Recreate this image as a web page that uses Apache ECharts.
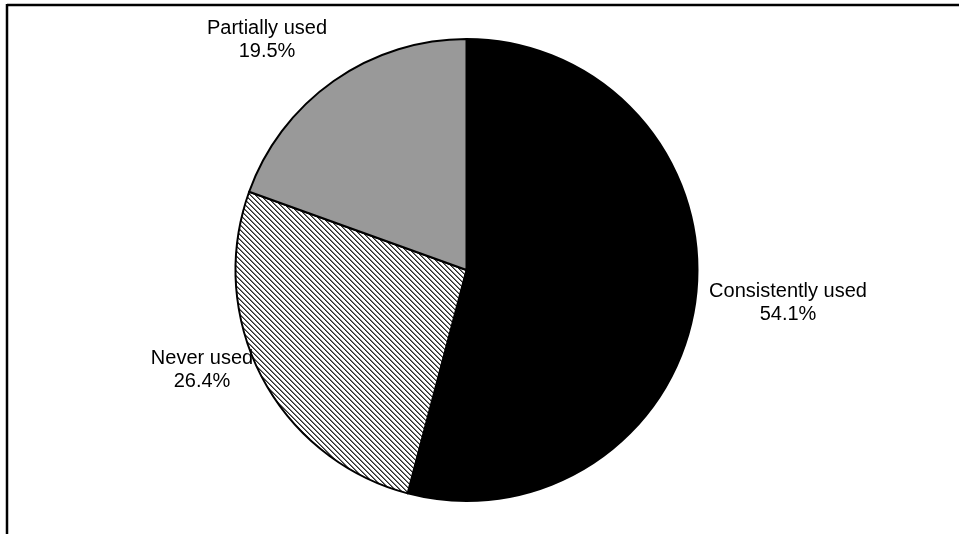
<!DOCTYPE html>
<html>
<head>
<meta charset="utf-8">
<script src="https://cdn.jsdelivr.net/npm/echarts@6/dist/echarts.min.js"></script>
<style>
  html, body { margin: 0; padding: 0; background: #fff; }
  #chart { width: 959px; height: 534px; }
</style>
</head>
<body>
<div id="chart"></div>
<script>
// Usage categories and their shares (percent)
const categories = ['Consistently used', 'Never used', 'Partially used'];
const shares = [54.1, 26.4, 19.5];

// Label anchor points (block centres), one per category
const labelCentres = [[788, 303], [202, 370], [267, 40]];

// Diagonal hatch tile for the "Never used" slice
function hatchTile() {
  const n = 5;
  const c = document.createElement('canvas');
  c.width = n; c.height = n;
  const ctx = c.getContext('2d');
  ctx.fillStyle = '#ffffff';
  ctx.fillRect(0, 0, n, n);
  for (let y = 0; y < n; y++) {
    for (let x = 0; x < n; x++) {
      const d = ((x - y) % n + n) % n;
      if (d === 0) { ctx.fillStyle = '#2a2a2a'; ctx.fillRect(x, y, 1, 1); }
      else if (d === 1) { ctx.fillStyle = '#7a7a7a'; ctx.fillRect(x, y, 1, 1); }
    }
  }
  return c;
}

const fills = ['#000000', { image: hatchTile(), repeat: 'repeat' }, '#999999'];

const chart = echarts.init(document.getElementById('chart'), null, { renderer: 'canvas' });

chart.setOption({
  animation: false,
  backgroundColor: '#ffffff',
  graphic: [
    { type: 'line', shape: { x1: 7, y1: 5, x2: 959, y2: 5 }, style: { stroke: '#000', lineWidth: 2.5 } },
    { type: 'line', shape: { x1: 7, y1: 4, x2: 7, y2: 534 }, style: { stroke: '#000', lineWidth: 2.5 } }
  ],
  series: [{
    type: 'pie',
    center: [466.5, 270],
    radius: 231,
    startAngle: 90,
    clockwise: true,
    avoidLabelOverlap: false,
    data: categories.map((name, i) => ({
      name,
      value: shares[i],
      itemStyle: { color: fills[i] }
    })),
    itemStyle: { borderColor: '#000', borderWidth: 2 },
    label: {
      show: true,
      position: 'outside',
      formatter: p => p.name + '\n' + p.value.toFixed(1) + '%',
      fontFamily: 'Liberation Sans, Arial, sans-serif',
      fontSize: 20,
      lineHeight: 23,
      color: '#000',
      align: 'center'
    },
    labelLine: { show: false },
    labelLayout: params => {
      const p = labelCentres[params.dataIndex];
      return { x: p[0], y: p[1], align: 'center', verticalAlign: 'middle' };
    },
    emphasis: { disabled: true }
  }]
});
</script>
</body>
</html>
